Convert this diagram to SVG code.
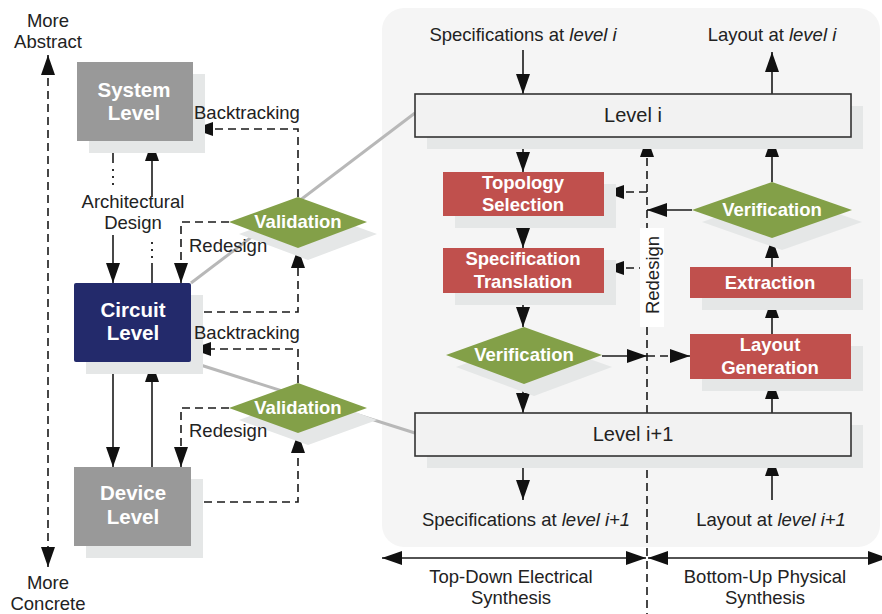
<svg xmlns="http://www.w3.org/2000/svg" width="882" height="614" viewBox="0 0 882 614">
<defs>
<marker id="ah" viewBox="0 0 20 14" markerUnits="userSpaceOnUse" markerWidth="20" markerHeight="14" refX="20" refY="7" orient="auto-start-reverse"><path d="M0,0 L20,7 L0,14 z" fill="#111"/></marker>
<style>
.t{font-family:"Liberation Sans",Arial,Helvetica,sans-serif;}
.lbl{font-size:18.5px;fill:#222;}
.nb{font-size:18.5px;font-weight:bold;fill:#fff;text-anchor:middle;}
.nl{font-size:20.5px;font-weight:bold;fill:#fff;text-anchor:middle;}
.sh{fill:#e5e7e7;}
.red{fill:#c0504d;}
.grn{fill:#83a048;}
.gry{fill:#999999;}
.lvl{fill:#f2f2f2;stroke:#333;stroke-width:1.6;}
.s{stroke:#1a1a1a;stroke-width:1.6;fill:none;}
.d{stroke:#1a1a1a;stroke-width:1.6;fill:none;stroke-dasharray:8 5;}
.gl{stroke:#b8b8b8;stroke-width:3;fill:none;}
</style>
</defs>
<rect width="882" height="614" fill="#fff"/>
<!-- right panel background -->
<rect x="382" y="8" width="498" height="539" rx="22" fill="#f5f5f5"/>

<!-- gray zoom lines -->
<g id="zoomlines">
<line class="gl" x1="191" y1="283" x2="415" y2="113"/>
<line class="gl" x1="191" y1="362" x2="415" y2="433"/>
</g>

<g id="connectors">
<!-- left axis -->
<line class="d" x1="48" y1="567" x2="48" y2="55" marker-start="url(#ah)" marker-end="url(#ah)"/>
<!-- system/circuit -->
<line class="s" x1="113" y1="141" x2="113" y2="163"/>
<line x1="113" y1="169" x2="113" y2="185" stroke="#1a1a1a" stroke-width="1.8" stroke-dasharray="2 5"/>
<line class="s" x1="113" y1="235" x2="113" y2="283" marker-end="url(#ah)"/>
<line class="s" x1="152" y1="197" x2="152" y2="141" marker-end="url(#ah)"/>
<line x1="152" y1="242" x2="152" y2="258" stroke="#1a1a1a" stroke-width="1.8" stroke-dasharray="2 5"/>
<line class="s" x1="152" y1="263" x2="152" y2="283"/>
<!-- circuit/device -->
<line class="s" x1="113" y1="362" x2="113" y2="467" marker-end="url(#ah)"/>
<line class="s" x1="152" y1="467" x2="152" y2="362" marker-end="url(#ah)"/>
<!-- validation 1 -->
<polyline class="d" points="298,197 298,129 193,129" marker-end="url(#ah)"/>
<polyline class="d" points="229,222 181,222 181,283" marker-end="url(#ah)"/>
<polyline class="d" points="191,312 298,312 298,248" marker-end="url(#ah)"/>
<!-- validation 2 -->
<polyline class="d" points="298,383 298,349 191,349" marker-end="url(#ah)"/>
<polyline class="d" points="229,408 181,408 181,467" marker-end="url(#ah)"/>
<polyline class="d" points="191,502 298,502 298,433" marker-end="url(#ah)"/>

<!-- right panel flow -->
<line class="s" x1="523" y1="50" x2="523" y2="94" marker-end="url(#ah)"/>
<line class="s" x1="772" y1="94" x2="772" y2="52" marker-end="url(#ah)"/>
<line class="s" x1="523" y1="137" x2="523" y2="172" marker-end="url(#ah)"/>
<line class="s" x1="523" y1="216" x2="523" y2="248" marker-end="url(#ah)"/>
<line class="s" x1="523" y1="293" x2="523" y2="327" marker-end="url(#ah)"/>
<line class="s" x1="523" y1="384" x2="523" y2="413" marker-end="url(#ah)"/>
<line class="s" x1="523" y1="456" x2="523" y2="500" marker-end="url(#ah)"/>
<line class="s" x1="772" y1="500" x2="772" y2="456" marker-end="url(#ah)"/>
<line class="s" x1="772" y1="413" x2="772" y2="379" marker-end="url(#ah)"/>
<line class="s" x1="772" y1="334" x2="772" y2="298" marker-end="url(#ah)"/>
<line class="s" x1="772" y1="267" x2="772" y2="238" marker-end="url(#ah)"/>
<line class="s" x1="772" y1="182" x2="772" y2="137" marker-end="url(#ah)"/>
<!-- redesign line -->
<line class="d" x1="647" y1="413" x2="647" y2="137" marker-end="url(#ah)"/>
<line class="d" x1="647" y1="192" x2="604" y2="192" marker-end="url(#ah)"/>
<line class="d" x1="647" y1="268" x2="604" y2="268" marker-end="url(#ah)"/>
<line class="s" x1="692" y1="210" x2="647" y2="210" marker-end="url(#ah)"/>
<line class="s" x1="602" y1="356" x2="647" y2="356" marker-end="url(#ah)"/>
<line class="d" x1="647" y1="356" x2="690" y2="356" marker-end="url(#ah)"/>
<!-- bottom -->
<line class="d" x1="647" y1="470" x2="647" y2="614"/>
<line class="s" x1="382" y1="558" x2="646" y2="558" marker-start="url(#ah)" marker-end="url(#ah)"/>
<line class="s" x1="648" y1="558" x2="888" y2="558" marker-start="url(#ah)" marker-end="url(#ah)"/>
</g>

<!-- redesign label -->
<g id="redesign-label">
<rect x="640" y="228" width="24" height="99" fill="#fff"/>
<text class="t lbl" transform="translate(659,275) rotate(-90)" text-anchor="middle">Redesign</text>
</g>

<g id="system-level">
<rect class="sh" x="89" y="74" width="116" height="79"/>
<rect class="gry" x="77" y="62" width="116" height="79"/>
<text class="t nl" x="134" y="97">System</text>
<text class="t nl" x="134" y="120">Level</text>
</g>
<g id="circuit-level">
<rect class="sh" x="86" y="295" width="117" height="79"/>
<rect x="74" y="283" width="117" height="79" rx="2" fill="#232a6b"/>
<text class="t nl" x="133" y="317">Circuit</text>
<text class="t nl" x="133" y="340">Level</text>
</g>
<g id="device-level">
<rect class="sh" x="86" y="479" width="117" height="79"/>
<rect class="gry" x="74" y="467" width="117" height="79"/>
<text class="t nl" x="133" y="500">Device</text>
<text class="t nl" x="133" y="524">Level</text>
</g>
<g id="validation-1">
<polygon class="sh" points="308,209 377,234 308,260 239,234"/>
<polygon class="grn" points="298,197 367,222 298,248 229,222"/>
<text class="t nb" x="298" y="228">Validation</text>
</g>
<g id="validation-2">
<polygon class="sh" points="308,395 377,420 308,445 239,420"/>
<polygon class="grn" points="298,383 367,408 298,433 229,408"/>
<text class="t nb" x="298" y="414">Validation</text>
</g>

<g id="left-labels" class="t lbl">
<text x="48" y="27" text-anchor="middle">More</text>
<text x="48" y="48" text-anchor="middle">Abstract</text>
<text x="48" y="589" text-anchor="middle">More</text>
<text x="48" y="610" text-anchor="middle">Concrete</text>
<text x="133" y="208" text-anchor="middle">Architectural</text>
<text x="133" y="229" text-anchor="middle">Design</text>
<text x="194" y="119">Backtracking</text>
<text x="189" y="252">Redesign</text>
<text x="194" y="339">Backtracking</text>
<text x="189" y="437">Redesign</text>
</g>

<g id="level-i">
<rect class="sh" x="427" y="106" width="436" height="43"/>
<rect class="lvl" x="415" y="94" width="436" height="43"/>
<text class="t" x="633" y="122" font-size="20" fill="#222" text-anchor="middle">Level i</text>
</g>
<g id="level-i1">
<rect class="sh" x="427" y="425" width="436" height="43"/>
<rect class="lvl" x="415" y="413" width="436" height="43"/>
<text class="t" x="633" y="441" font-size="20" fill="#222" text-anchor="middle">Level i+1</text>
</g>
<g id="topology-selection">
<rect class="sh" x="455" y="184" width="161" height="44"/>
<rect class="red" x="443" y="172" width="161" height="44"/>
<text class="t nb" x="523" y="189">Topology</text>
<text class="t nb" x="523" y="211">Selection</text>
</g>
<g id="specification-translation">
<rect class="sh" x="455" y="260" width="161" height="45"/>
<rect class="red" x="443" y="248" width="161" height="45"/>
<text class="t nb" x="523" y="265">Specification</text>
<text class="t nb" x="523" y="288">Translation</text>
</g>
<g id="verification-left">
<polygon class="sh" points="534,339 612,367 534,396 456,367"/>
<polygon class="grn" points="524,327 602,355 524,384 446,355"/>
<text class="t nb" x="524" y="361">Verification</text>
</g>
<g id="verification-right">
<polygon class="sh" points="782,194 862,222 782,250 702,222"/>
<polygon class="grn" points="772,182 852,210 772,238 692,210"/>
<text class="t nb" x="772" y="216">Verification</text>
</g>
<g id="extraction">
<rect class="sh" x="702" y="279" width="161" height="31"/>
<rect class="red" x="690" y="267" width="161" height="31"/>
<text class="t nb" x="770" y="289">Extraction</text>
</g>
<g id="layout-generation">
<rect class="sh" x="702" y="346" width="161" height="45"/>
<rect class="red" x="690" y="334" width="161" height="45"/>
<text class="t nb" x="770" y="351">Layout</text>
<text class="t nb" x="770" y="374">Generation</text>
</g>

<g id="right-labels" class="t lbl" text-anchor="middle">
<text x="523" y="41">Specifications at <tspan font-style="italic">level i</tspan></text>
<text x="772" y="41">Layout at <tspan font-style="italic">level i</tspan></text>
<text x="526" y="526">Specifications at <tspan font-style="italic">level i+1</tspan></text>
<text x="771" y="526">Layout at <tspan font-style="italic">level i+1</tspan></text>
<text x="511" y="583">Top-Down Electrical</text>
<text x="511" y="604">Synthesis</text>
<text x="765" y="583">Bottom-Up Physical</text>
<text x="765" y="604">Synthesis</text>
</g>
</svg>
